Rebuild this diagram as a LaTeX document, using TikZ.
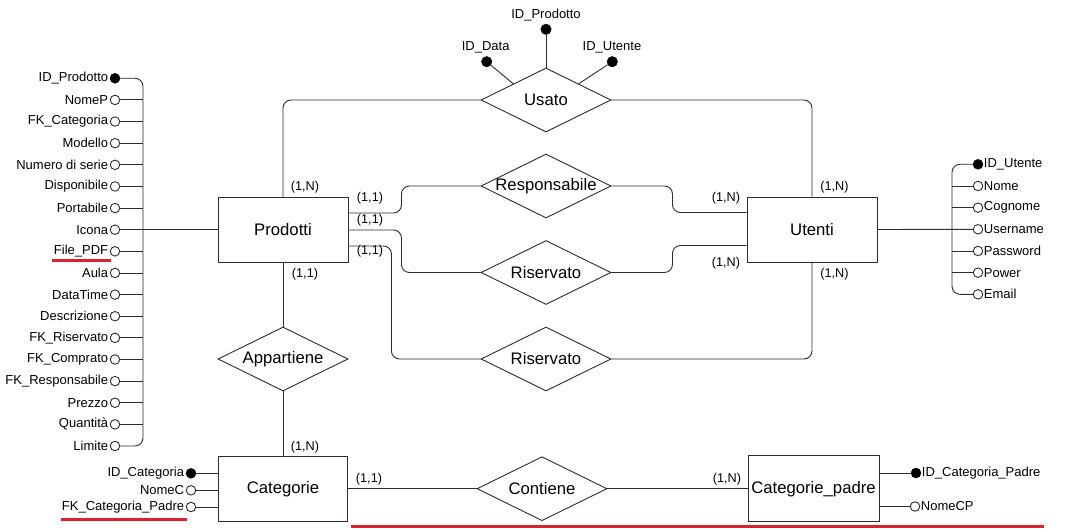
\documentclass[tikz,border=0pt]{standalone}
\usepackage{fontspec}
\setmainfont{Liberation Sans}
\usetikzlibrary{shapes.geometric}
\definecolor{myred}{RGB}{222,32,44}
\definecolor{lncol}{RGB}{45,45,45}
\begin{document}
\begin{tikzpicture}[x=1pt,y=-1pt,
  ln/.style={draw=lncol, line width=0.9pt},
  conn/.style={ln, rounded corners=8pt},
  entity/.style={draw=lncol, line width=0.9pt, minimum width=130pt, minimum height=65pt, inner sep=0pt, font=\fontsize{16.7}{18}\selectfont},
  rel/.style={diamond, draw=lncol, line width=0.9pt, minimum width=130pt, minimum height=64pt, inner sep=0pt, font=\fontsize{16.7}{18}\selectfont},
  card/.style={inner sep=0pt, font=\fontsize{12.7}{14}\selectfont},
  atxt/.style={inner sep=0.5pt, font=\fontsize{13}{15}\selectfont},
  aopen/.style={circle, draw=lncol, line width=0.9pt, fill=white, minimum size=9.5pt, inner sep=0pt},
  afull/.style={circle, draw=black, fill=black, minimum size=10pt, inner sep=0pt},
  abig/.style={circle, draw=black, fill=black, minimum size=10.5pt, inner sep=0pt},
  redline/.style={draw=myred, line width=2.6pt}
]
\useasboundingbox (0,0) rectangle (1077,532);
\fill[white] (0,0) rectangle (1077,532);

% entities
\node[entity] (prodotti) at (283,230) {Prodotti};
\node[entity] (utenti) at (812,229.5) {Utenti};
\node[entity, minimum width=129pt, minimum height=64.5pt] (categorie) at (283,488.7) {Categorie};
\node[entity, minimum width=131pt, minimum height=66pt] (catpadre) at (813.5,488.7) {Categorie\_padre};

% relationships
\node[rel] (usato) at (546,100) {\makebox[0pt]{Usato}};
\node[rel] (resp) at (546,186) {\makebox[0pt]{Responsabile}};
\node[rel] (ris1) at (546,272.5) {\makebox[0pt]{Riservato}};
\node[rel] (ris2) at (546,359) {\makebox[0pt]{Riservato}};
\node[rel] (app) at (283,359) {\makebox[0pt]{Appartiene}};
\node[rel] (cont) at (542,488.7) {\makebox[0pt]{Contiene}};

% connectors
\draw[conn] (usato.west) -| (prodotti.north);
\draw[conn] (usato.east) -| (utenti.north);
\draw[conn] ([yshift=17pt]prodotti.east) -- ++(53,0) |- (resp.west);
\draw[conn] (prodotti.east) -- ++(53,0) |- (ris1.west);
\draw[conn] ([yshift=-16pt]prodotti.east) -- ++(43,0) |- (ris2.west);
\draw[conn] (resp.east) -- ++(61,0) |- ([yshift=17pt]utenti.west);
\draw[conn] (ris1.east) -- ++(61,0) |- ([yshift=-16pt]utenti.west);
\draw[conn] (ris2.east) -| (utenti.south);
\draw[ln] (prodotti.south) -- (app.north);
\draw[ln] (app.south) -- (categorie.north);
\draw[ln] (categorie.east) -- (cont.west);
\draw[ln] (cont.east) -- (catpadre.west);

% Usato attributes
\node[abig] (ud1) at (546,29.3) {};
\node[abig] (ud2) at (486.7,61.7) {};
\node[abig] (ud3) at (612.3,61.7) {};
\node[atxt, anchor=base] (ud1t) at (546,18.5) {ID\_Prodotto};
\node[atxt, anchor=base] (ud2t) at (485.7,51) {ID\_Data};
\node[atxt, anchor=base] (ud3t) at (612,51) {ID\_Utente};
\draw[ln] (ud1) -- (usato.north);
\draw[ln] (ud2) -- (usato.north west);
\draw[ln] (ud3) -- (usato.north east);

% Prodotti attributes
\node[afull, label={[atxt,label distance=1pt]left:ID\_Prodotto}] (p1) at (115,78.3) {};
\foreach \t [count=\i from 2] in {NomeP,FK\_Categoria,Modello,Numero di serie,Disponibile,Portabile,Icona,File\_PDF,Aula,DataTime,Descrizione,FK\_Riservato,FK\_Comprato,FK\_Responsabile,Prezzo,Quantità,Limite}{
  \pgfmathsetmacro\yy{78.3+(\i-1)*21.63}
  \node[aopen, label={[atxt,label distance=1pt]left:\t}] (p\i) at (115,\yy) {};
}
\coordinate (busTop) at (143,78.3);
\coordinate (busBot) at (143,446);
\draw[conn] (p1.east) -| (busBot) -- (p18.east);
\foreach \i in {2,...,17}{\draw[ln] (p\i.east) -- (p\i.east -| busTop);}
\draw[ln] (p8.east) -- (p8.east -| prodotti.west);

% Utenti attributes
\node[afull, label={[atxt,label distance=0pt]right:ID\_Utente}] (u1) at (978,164.3) {};
\foreach \t [count=\i from 2] in {Nome,Cognome,Username,Password,Power,Email}{
  \pgfmathsetmacro\yy{164.3+(\i-1)*21.67}
  \node[aopen, label={[atxt,label distance=0pt]right:\t}] (u\i) at (978,\yy) {};
}
\coordinate (busRTop) at (952,164.3);
\coordinate (busRBot) at (952,294.3);
\draw[conn] (u1.west) -| (busRBot) -- (u7.west);
\foreach \i in {2,...,6}{\draw[ln] (u\i.west) -- (u\i.west -| busRTop);}
\draw[ln] (utenti.east) -- (u4.west);

% Categorie attributes
\node[afull, label={[atxt,label distance=1pt]left:ID\_Categoria}] (c1) at (191,473.3) {};
\node[aopen, label={[atxt,label distance=1pt]left:NomeC}] (c2) at (191,490.3) {};
\node[aopen, label={[atxt,label distance=1pt]left:FK\_Categoria\_Padre}] (c3) at (191,507) {};
\foreach \i in {1,2,3}{\draw[ln] (c\i.east) -- (c\i.east -| categorie.west);}

% Categorie_padre attributes
\node[afull, label={[atxt,label distance=0pt]right:ID\_Categoria\_Padre}] (cp1) at (916,473) {};
\node[aopen, label={[atxt,label distance=0pt]right:NomeCP}] (cp2) at (915,506.5) {};
\foreach \i in {1,2}{\draw[ln] (cp\i.west -| catpadre.east) -- (cp\i.west);}

% cardinalities
\node[card] (k1) at (305,187) {(1,N)};
\node[card] (k2) at (370,198) {(1,1)};
\node[card] (k3) at (370,220.5) {(1,1)};
\node[card] (k4) at (370,251.5) {(1,1)};
\node[card] (k5) at (305,274) {(1,1)};
\node[card] (k6) at (726,198) {(1,N)};
\node[card] (k7) at (726,263) {(1,N)};
\node[card] (k8) at (834.5,187) {(1,N)};
\node[card] (k9) at (834.5,274) {(1,N)};
\node[card] (k10) at (305,447) {(1,N)};
\node[card] (k11) at (369,479) {(1,1)};
\node[card] (k12) at (727,479) {(1,N)};

% red underlines
\draw[redline] (52,260.5) -- (111,260.5);
\draw[redline] (61,519.5) -- (187,519.5);
\draw[redline] (351,526.3) -- (1044,526.3);
\end{tikzpicture}
\end{document}
